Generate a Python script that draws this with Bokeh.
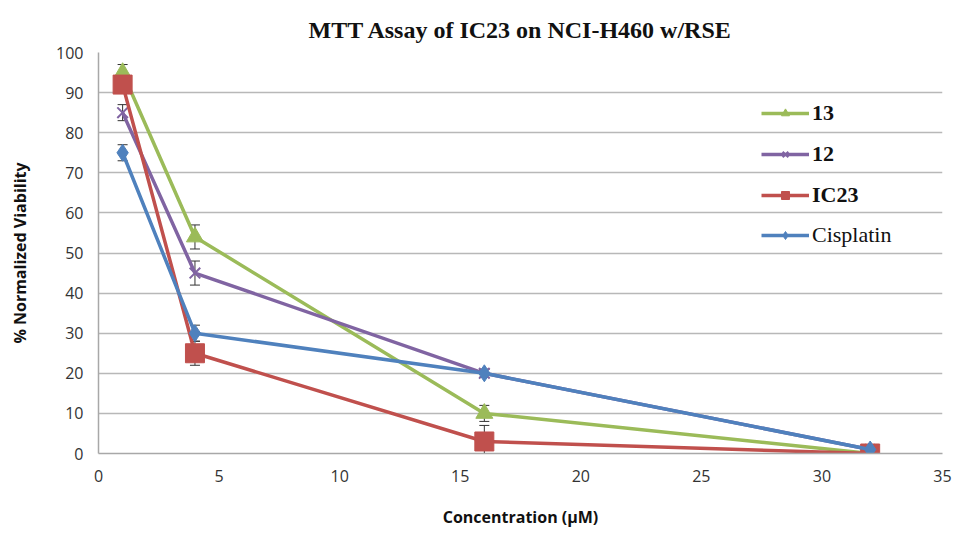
from bokeh.plotting import figure
from bokeh.models import (ColumnDataSource, Whisker, TeeHead, Legend, LegendItem,
                          FixedTicker, Range1d, Title)
from bokeh.embed import file_html
from bokeh.resources import INLINE

conc = [1, 4, 16, 32]
s13 = [95, 54, 10, 0]
e13 = [2, 3, 2, 0]
s12 = [85, 45, 20, 1]
e12 = [2, 3, 1, 0]
ic23 = [92, 25, 3, 0]
eic23 = [1, 3, 4, 0]
cis = [75, 30, 20, 1]
ecis = [2, 2, 1, 0]

names = ["13", "12", "IC23", "Cisplatin"]
colors = ["#9BBB59", "#8064A2", "#C0504D", "#4F81BD"]
markers = ["triangle", "x", "square", "diamond"]
sizes = [17, 15, 19, 17]
series = [s13, s12, ic23, cis]
errs = [e13, e12, eic23, ecis]

title_text = "MTT Assay of IC23 on NCI-H460 w/RSE"
x_ticks = [0, 5, 10, 15, 20, 25, 30, 35]
y_ticks = [0, 10, 20, 30, 40, 50, 60, 70, 80, 90, 100]

p = figure(width=956, height=530, output_backend="svg", toolbar_location=None,
           x_range=Range1d(0, 35), y_range=Range1d(0, 100),
           min_border_left=98, min_border_right=14, min_border_top=52,
           min_border_bottom=75)
p.title = Title(text=title_text, align="center",
                text_font="Liberation Serif", text_font_size="24px",
                text_font_style="bold", text_color="#111111", standoff=20)
p.outline_line_color = None
p.background_fill_color = "white"
p.border_fill_color = "white"

p.xgrid.grid_line_color = None
p.ygrid.grid_line_color = "#B8B8B8"
p.ygrid.grid_line_width = 1.3
p.ygrid.ticker = FixedTicker(ticks=y_ticks)

for ax in (p.xaxis[0], p.yaxis[0]):
    ax.axis_line_color = "#A8A8A8"
    ax.axis_line_width = 1.5
    ax.major_tick_line_color = None
    ax.minor_tick_line_color = None
    ax.major_label_text_font = "Open Sans"
    ax.major_label_text_font_size = "16px"
    ax.major_label_text_color = "#333333"
    ax.axis_label_text_font = "Open Sans"
    ax.axis_label_text_font_size = "16px"
    ax.axis_label_text_font_style = "bold"
    ax.axis_label_text_color = "#111111"
p.xaxis.ticker = FixedTicker(ticks=x_ticks)
p.yaxis.ticker = FixedTicker(ticks=y_ticks)
p.xaxis.axis_label = "Concentration (\u00b5M)"
p.yaxis.axis_label = "% Normalized Viability"
p.xaxis.major_label_standoff = 10
p.yaxis.major_label_standoff = 9
p.xaxis.axis_label_standoff = 21
p.yaxis.axis_label_standoff = 22

items = []
for name, col, mk, sz, ys, es in zip(names, colors, markers, sizes, series, errs):
    src = ColumnDataSource(dict(x=conc, y=ys,
                                lo=[a - b for a, b in zip(ys, es)],
                                hi=[a + b for a, b in zip(ys, es)]))
    ln = p.line("x", "y", source=src, line_color=col, line_width=3.5)
    w = Whisker(base="x", lower="lo", upper="hi", source=src,
                line_color="#333333", line_width=1,
                upper_head=TeeHead(size=10, line_color="#333333", line_width=1),
                lower_head=TeeHead(size=10, line_color="#333333", line_width=1))
    p.add_layout(w)
    if mk == "x":
        sc = p.scatter("x", "y", source=src, marker=mk, size=sz,
                       line_color=col, line_width=2)
    else:
        sc = p.scatter("x", "y", source=src, marker=mk, size=sz,
                       fill_color=col, line_color=col)
    items.append(LegendItem(label=name, renderers=[ln, sc]))

common = dict(orientation="vertical", label_text_font="Liberation Serif",
              label_text_font_size="22px", label_text_color="#111111",
              glyph_width=48, glyph_height=20, label_height=20, spacing=15,
              label_standoff=3, padding=0, margin=0,
              border_line_color=None, background_fill_alpha=0)
leg1 = Legend(items=items[:3], location=(663, 245), label_text_font_style="bold",
              **common)
leg2 = Legend(items=items[3:], location=(663, 205), label_text_font_style="normal",
              **common)
p.add_layout(leg1, "center")
p.add_layout(leg2, "center")

open("out.html", "w").write(file_html(p, INLINE))
